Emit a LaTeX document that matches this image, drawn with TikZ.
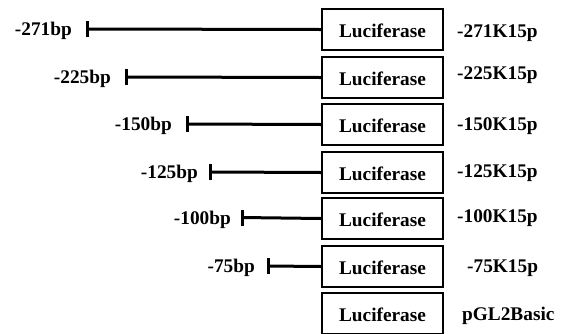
\documentclass[tikz,border=0pt]{standalone}
\usepackage{fontspec}
\setmainfont{Liberation Serif}
\begin{document}
\begin{tikzpicture}[x=1pt,y=-1pt,
  txt/.style={font=\fontsize{19.3}{23}\selectfont\bfseries},
  lucbox/.style={txt,draw=black,line width=1.5pt,minimum width=121pt,minimum height=41pt,inner sep=0pt,
                 text height=15pt,text depth=0pt},
  lbl/.style={txt,inner sep=0pt},
  promoter/.style={line width=3pt},
  tickmark/.style={line width=3pt}]
\useasboundingbox (0,0) rectangle (564,333);

% luciferase reporter boxes
\node[lucbox] (b1) at (382.5,29.5)  {Luciferase};
\node[lucbox] (b2) at (382.5,77.5)  {Luciferase};
\node[lucbox] (b3) at (382.5,124.5) {Luciferase};
\node[lucbox] (b4) at (382.5,172.5) {Luciferase};
\node[lucbox] (b5) at (382.5,218.5) {Luciferase};
\node[lucbox] (b6) at (382.5,266.5) {Luciferase};
\node[lucbox] (b7) at (382.5,313.5) {Luciferase};

% construct names
\node[lbl,anchor=base west] (n1) at (457,37.3)  {-271K15p};
\node[lbl,anchor=base west] (n2) at (457,79)    {-225K15p};
\node[lbl,anchor=base west] (n3) at (457,130.5) {-150K15p};
\node[lbl,anchor=base west] (n4) at (457,177.5) {-125K15p};
\node[lbl,anchor=base west] (n5) at (457,222.5) {-100K15p};
\node[lbl,anchor=base west] (n6) at (467,272)   {-75K15p};
\node[lbl,anchor=base west] (n7) at (462,320)   {pGL2Basic};

% promoter start points
\coordinate (t1) at (87,29);
\coordinate (t2) at (126,77);
\coordinate (t3) at (187,124);
\coordinate (t4) at (210,172);
\coordinate (t5) at (242,217.5);
\coordinate (t6) at (268,266);

% promoter length labels
\node[lbl,anchor=base east] (p1) at ([xshift=-15pt,yshift=-6.8pt]t1) {-271bp};
\node[lbl,anchor=base east] (p2) at ([xshift=-15pt,yshift=-6.8pt]t2) {-225bp};
\node[lbl,anchor=base east] (p3) at ([xshift=-15pt,yshift=-6.8pt]t3) {-150bp};
\node[lbl,anchor=base east] (p4) at ([xshift=-12pt,yshift=-6.8pt]t4) {-125bp};
\node[lbl,anchor=base east] (p5) at ([xshift=-11pt,yshift=-6.8pt]t5) {-100bp};
\node[lbl,anchor=base east] (p6) at ([xshift=-13pt,yshift=-6.5pt]t6) {-75bp};

% promoter fragments with end ticks
\foreach \i in {1,...,6}{
  \draw[promoter] (t\i) -- (b\i.west);
  \draw[tickmark] ([yshift=-8pt]t\i) -- ([yshift=8pt]t\i);
}
\end{tikzpicture}
\end{document}
